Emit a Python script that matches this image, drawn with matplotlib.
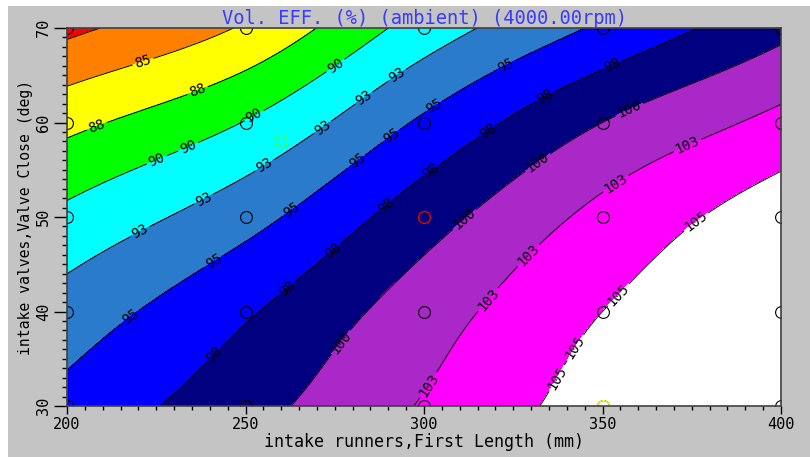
import numpy as np
import matplotlib
matplotlib.use('Agg')
import matplotlib.pyplot as plt
from matplotlib.patches import Rectangle
from matplotlib.ticker import MultipleLocator

# Measured grid: runner length (mm) x valve close angle (deg)
runner_len = [200, 250, 300, 350, 400]
valve_close = [30, 40, 50, 60, 70]

# Vol. efficiency (%) rows follow valve_close, columns follow runner_len
vol_eff = [
    [95.8, 99.1, 102.7, 106.0, 107.3],
    [93.6, 97.2, 101.3, 105.0, 107.0],
    [90.6, 94.1, 98.9, 103.2, 106.3],
    [86.8, 90.1, 95.4, 100.0, 103.2],
    [81.9, 85.3, 91.1, 95.4, 99.3],
]

# contour levels and band colours
levels = [82.5, 85, 87.5, 90, 92.5, 95, 97.5, 100, 102.5, 105]
band_colors = ['#ff0000', '#ff8000', '#ffff00', '#00ff00', '#00ffff', '#2a7bcc',
               '#0000ff', '#000080', '#aa28c8', '#ff00ff', '#ffffff']

# highlighted points
current_pt = (300, 50)
best_pt = (350, 30)
extra_pt = (260, 58)

# where the contour labels sit (text placement only)
label_spots = [
    (221, 66.8),
    (236, 64.0), (208.5, 59.5),
    (274.5, 66.4), (252, 61.0), (234, 57.4), (225, 56.2),
    (292, 65.3), (283, 62.7), (274.5, 57.9), (257.5, 54.1), (238, 52.1), (219.5, 49.1),
    (292, 58.1), (284, 54.6), (263, 50.7), (240, 46), (217.5, 39.5), (322.5, 66.4), (302.5, 61.9),
    (353, 65.9), (334, 62.6), (317.5, 59.4), (302.5, 54.6), (290, 50.9),
    (274.5, 46.5), (261, 42.7), (241, 35.6),
    (358, 61), (332, 55.7), (311, 49.9), (276.5, 36.8),
    (374, 57.4), (354, 53.4), (329, 46), (317.5, 41.4), (300.5, 32.4),
    (377, 49.1), (353.5, 42.1), (341.5, 36.4), (336, 33.2),
]

mono = 'DejaVu Sans Mono'
gray = '#c4c4c4'


def hermite(xk, yk, xq):
    # cubic hermite with finite-difference slopes
    m = np.gradient(yk, xk)
    i = np.clip(np.searchsorted(xk, xq) - 1, 0, len(xk) - 2)
    h = xk[i + 1] - xk[i]
    t = (xq - xk[i]) / h
    h00 = 2 * t**3 - 3 * t**2 + 1
    h10 = t**3 - 2 * t**2 + t
    h01 = -2 * t**3 + 3 * t**2
    h11 = t**3 - t**2
    return h00 * yk[i] + h10 * h * m[i] + h01 * yk[i + 1] + h11 * h * m[i + 1]


# upsample the 5x5 grid
xs = np.array(runner_len, dtype=float)
ys = np.array(valve_close, dtype=float)
z = np.array(vol_eff)
xf = np.linspace(xs[0], xs[-1], 401)
yf = np.linspace(ys[0], ys[-1], 401)
rows = np.array([hermite(xs, r, xf) for r in z])
zf = np.array([hermite(ys, rows[:, j], yf) for j in range(len(xf))]).T
X, Y = np.meshgrid(xf, yf)

fig = plt.figure(figsize=(8.1, 4.57), dpi=100, facecolor='white')
fig.patches.append(Rectangle((8 / 810, 0), 1, (457 - 6) / 457, transform=fig.transFigure,
                             facecolor=gray, edgecolor='none', zorder=-1))
ax = fig.add_axes([67 / 810, 51 / 457, 714 / 810, 378 / 457])

bounds = [60] + levels + [130]
ax.contourf(X, Y, zf, levels=bounds, colors=band_colors)
cs = ax.contour(X, Y, zf, levels=levels, colors='black', linewidths=0.7)


def fmt(v):
    return f'{int(v + 0.5)}'


labels = ax.clabel(cs, manual=label_spots, inline=True, inline_spacing=2,
                   fmt=fmt, fontsize=10, colors='black')
for t in labels:
    t.set_family(mono)

# measurement points
gx, gy = np.meshgrid(runner_len, valve_close)
ax.plot(gx.ravel(), gy.ravel(), 'o', mfc='none', mec='black', ms=8.5, mew=0.8)
ax.plot(*current_pt, 'o', mfc='none', mec='#ff0000', ms=8.5, mew=0.9)
ax.plot(*best_pt, 'o', mfc='none', mec='#ffff00', ms=8.5, mew=0.9)
ax.plot(*extra_pt, 'o', mfc='none', mec='#40ff40', ms=8.5, mew=0.9)

ax.set_xlim(200, 400)
ax.set_ylim(30, 70)
ax.xaxis.set_major_locator(MultipleLocator(50))
ax.xaxis.set_minor_locator(MultipleLocator(5))
ax.yaxis.set_major_locator(MultipleLocator(10))
ax.yaxis.set_minor_locator(MultipleLocator(1))
ax.tick_params(axis='x', which='major', length=6, width=1, pad=2, direction='out')
ax.tick_params(axis='x', which='minor', length=3, width=1, direction='out')
ax.tick_params(axis='y', which='major', length=9.5, width=1, pad=2, direction='out')
ax.tick_params(axis='y', which='minor', length=3.5, width=1, direction='out')
for lab in ax.get_xticklabels():
    lab.set_family(mono)
    lab.set_fontsize(11)
for lab in ax.get_yticklabels():
    lab.set_family(mono)
    lab.set_fontsize(11)
    lab.set_rotation(90)
    lab.set_va('center')

for sp in ax.spines.values():
    sp.set_color('#404040')
    sp.set_linewidth(1.2)

ax.set_title('Vol. EFF. (%) (ambient) (4000.00rpm)', family=mono, fontsize=13.5,
             color='#3a3aff', pad=1)
ax.set_xlabel('intake runners,First Length (mm)', family=mono, fontsize=12)
ax.set_ylabel('intake valves,Valve Close (deg)', family=mono, fontsize=10.6)
ax.xaxis.set_label_coords(0.5, -0.072)
ax.yaxis.set_label_coords(-0.048, 0.5)

fig.savefig('out.png', dpi=100, facecolor=fig.get_facecolor())
